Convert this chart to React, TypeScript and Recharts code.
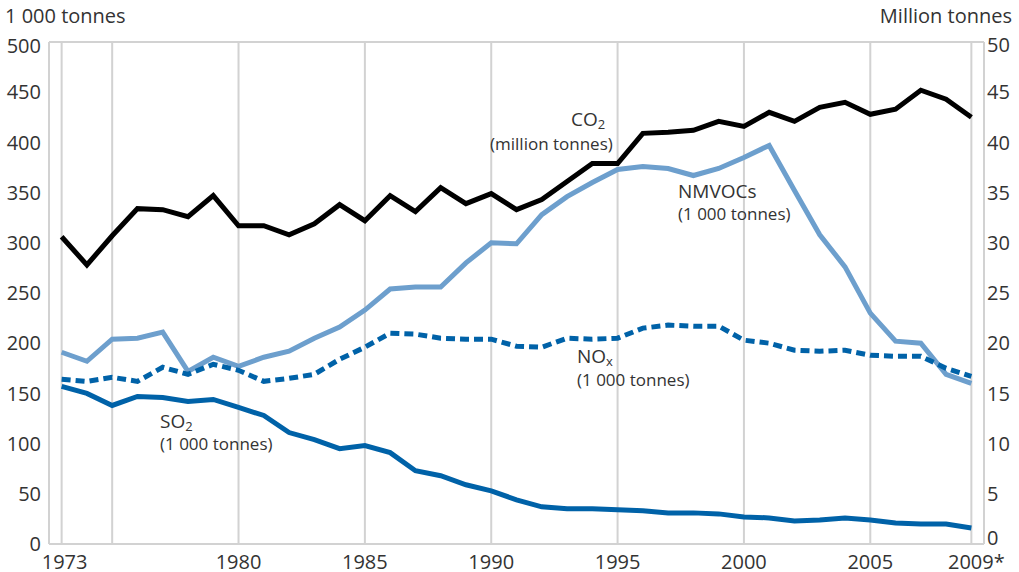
import React from "react";
import {
	LineChart,
	Line,
	XAxis,
	YAxis,
	CartesianGrid,
} from "recharts";

const years = [
	1973, 1974, 1975, 1976, 1977, 1978, 1979, 1980, 1981, 1982, 1983, 1984,
	1985, 1986, 1987, 1988, 1989, 1990, 1991, 1992, 1993, 1994, 1995, 1996,
	1997, 1998, 1999, 2000, 2001, 2002, 2003, 2004, 2005, 2006, 2007, 2008,
	2009,
];

// million tonnes (right axis)
const co2 = [
	30.6, 27.8, 30.7, 33.4, 33.3, 32.6, 34.7, 31.7, 31.7, 30.8, 31.9, 33.8,
	32.2, 34.7, 33.1, 35.5, 33.9, 34.9, 33.3, 34.3, 36.1, 37.9, 37.9, 40.9,
	41.0, 41.2, 42.1, 41.6, 43.0, 42.1, 43.5, 44.0, 42.8, 43.3, 45.2, 44.3,
	42.5,
];

// 1 000 tonnes (left axis)
const nmvoc = [
	191, 182, 204, 205, 211, 172, 186, 177, 186, 192, 205, 216, 233, 254,
	256, 256, 280, 300, 299, 328, 346, 360, 373, 376, 374, 367, 374, 385,
	397, 352, 308, 276, 230, 202, 200, 169, 160,
];

const nox = [
	164, 162, 166, 162, 176, 169, 179, 173, 162, 165, 169, 184, 196, 210,
	209, 205, 204, 204, 197, 196, 205, 204, 205, 215, 218, 217, 217, 203,
	200, 193, 192, 193, 188, 187, 187, 175, 167,
];

const so2 = [
	157, 150, 138, 147, 146, 142, 144, 136, 128, 111, 104, 95, 98, 91, 73,
	68, 59, 53, 44, 37, 35, 35, 34, 33, 31, 31, 30, 27, 26, 23, 24, 26, 24,
	21, 20, 20, 16,
];

const xTicks = [1973, 1975, 1980, 1985, 1990, 1995, 2000, 2005, 2009];
const leftTicks = [0, 50, 100, 150, 200, 250, 300, 350, 400, 450, 500];
const rightTicks = [0, 5, 10, 15, 20, 25, 30, 35, 40, 45, 50];

const data = years.map((year, i) => ({
	year,
	co2: co2[i],
	nmvoc: nmvoc[i],
	nox: nox[i],
	so2: so2[i],
}));

const FONT = "'Open Sans', 'Noto Sans', sans-serif";
const TEXT = "#333333";
const GRID = "#d2d2d2";
const DARK_BLUE = "#0062a8";
const LIGHT_BLUE = "#6d9fcd";

// x labels: no label on the 1975 gridline, star on the last (provisional) year
const XTick = (props: any) => {
	const { x, y, payload } = props;
	const v = payload.value;
	if (v === 1975) return null;
	const label = v === 2009 ? "2009*" : String(v);
	const dx = v === 2009 ? 5 : v === 1973 ? 3 : 0;
	return (
		<text
			x={x + dx}
			y={y}
			dy="0.71em"
			textAnchor="middle"
			fill={TEXT}
			fontSize={20}
			fontFamily={FONT}
		>
			{label}
		</text>
	);
};

// end labels are nudged off the corners, as in the original
const YTick = (props: any) => {
	const { x, y, payload, textAnchor, top, topShift, bottomShift } = props;
	let shift = 0;
	if (payload.value === top) shift = topShift;
	if (payload.value === 0) shift = bottomShift;
	return (
		<text
			x={x}
			y={y + shift}
			dy="0.355em"
			textAnchor={textAnchor}
			fill={TEXT}
			fontSize={20}
			fontFamily={FONT}
		>
			{payload.value}
		</text>
	);
};

const labelStyle: React.CSSProperties = {
	position: "absolute",
	color: TEXT,
	fontFamily: FONT,
	whiteSpace: "nowrap",
	lineHeight: 1,
};

const Sub = ({ children }: { children: React.ReactNode }) => (
	<span style={{ fontSize: 13, position: "relative", top: 3, lineHeight: 0 }}>
		{children}
	</span>
);

const Title = ({
	x,
	y,
	subY,
	main,
	sub,
}: {
	x: number;
	y: number;
	subY: number;
	main: React.ReactNode;
	sub: string;
}) => (
	<>
		<div style={{ ...labelStyle, left: x, top: y, fontSize: 19 }}>{main}</div>
		<div style={{ ...labelStyle, left: x, top: subY, fontSize: 17 }}>{sub}</div>
	</>
);

export default function App() {
	return (
		<div
			style={{
				position: "absolute",
				left: 0,
				top: 0,
				width: 1019,
				height: 572,
				background: "#fff",
			}}
		>
			<LineChart
				width={1019}
				height={572}
				data={data}
				margin={{ top: 42, right: 0, left: 0, bottom: 0 }}
			>
				<CartesianGrid stroke={GRID} strokeWidth={2} />
				<XAxis
					dataKey="year"
					type="number"
					domain={[1972.5, 2009.5]}
					ticks={xTicks}
					interval={0}
					height={28}
					tickLine={false}
					axisLine={{ stroke: GRID, strokeWidth: 2 }}
					tick={<XTick />}
					tickMargin={5}
				/>
				<YAxis
					yAxisId="left"
					domain={[0, 500]}
					ticks={leftTicks}
					interval={0}
					width={49}
					tickLine={false}
					axisLine={{ stroke: GRID, strokeWidth: 2 }}
					tick={<YTick top={500} topShift={4} bottomShift={0} />}
				/>
				<YAxis
					yAxisId="right"
					orientation="right"
					domain={[0, 50]}
					ticks={rightTicks}
					interval={0}
					width={35}
					tickLine={false}
					tickMargin={-3}
					axisLine={{ stroke: GRID, strokeWidth: 2 }}
					tick={<YTick top={50} topShift={3} bottomShift={-6} />}
				/>
				<Line
					yAxisId="right"
					dataKey="co2"
					stroke="#000000"
					strokeWidth={5}
					dot={false}
					type="linear"
					isAnimationActive={false}
				/>
				<Line
					yAxisId="left"
					dataKey="nmvoc"
					stroke={LIGHT_BLUE}
					strokeWidth={5}
					dot={false}
					type="linear"
					isAnimationActive={false}
				/>
				<Line
					yAxisId="left"
					dataKey="nox"
					stroke={DARK_BLUE}
					strokeWidth={5}
					strokeDasharray="9 5"
					dot={false}
					type="linear"
					isAnimationActive={false}
				/>
				<Line
					yAxisId="left"
					dataKey="so2"
					stroke={DARK_BLUE}
					strokeWidth={5}
					dot={false}
					type="linear"
					isAnimationActive={false}
				/>
			</LineChart>

			<div style={{ ...labelStyle, left: 5, top: 6, fontSize: 20 }}>1 000 tonnes</div>
			<div style={{ ...labelStyle, right: 7, top: 6, fontSize: 20 }}>Million tonnes</div>

			<div style={{ ...labelStyle, left: 571, top: 110, fontSize: 19 }}>
				CO<Sub>2</Sub>
			</div>
			<div style={{ ...labelStyle, left: 490, top: 135, fontSize: 17 }}>(million tonnes)</div>

			<Title x={678} y={182} subY={205} main="NMVOCs" sub="(1 000 tonnes)" />
			<Title
				x={577}
				y={347}
				subY={371}
				main={
					<>
						NO<Sub>x</Sub>
					</>
				}
				sub="(1 000 tonnes)"
			/>
			<Title
				x={160}
				y={412}
				subY={435}
				main={
					<>
						SO<Sub>2</Sub>
					</>
				}
				sub="(1 000 tonnes)"
			/>
		</div>
	);
}
